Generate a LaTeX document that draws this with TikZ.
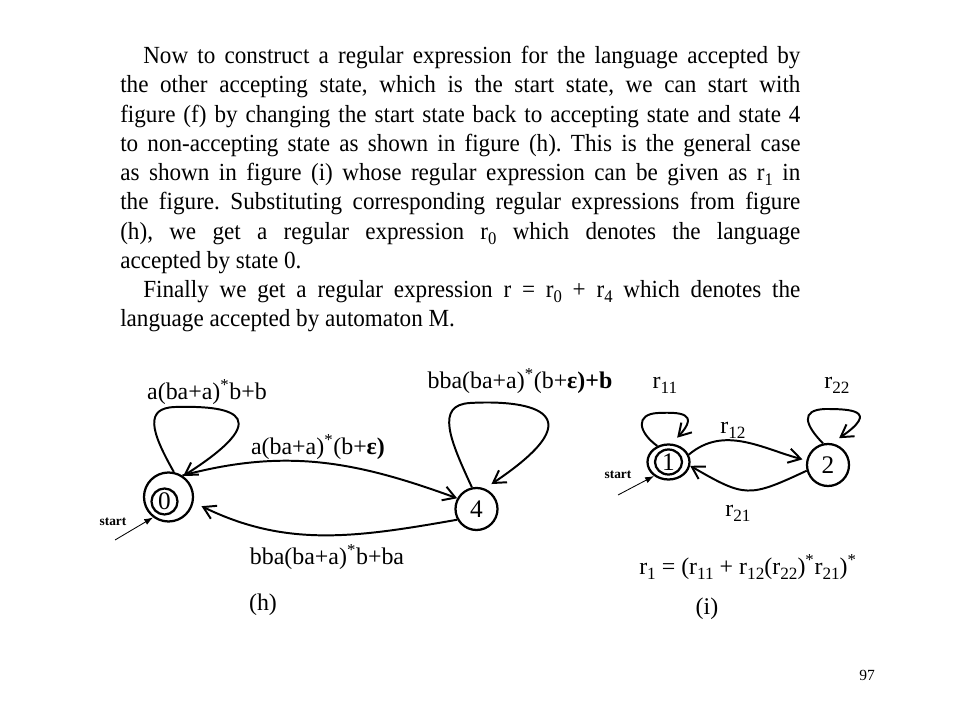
\documentclass[tikz,border=0pt]{standalone}
\usepackage{fontspec}
\setmainfont{Liberation Serif}
\newfontfamily\bodyfont{Liberation Serif}[FakeStretch=0.94]
\usetikzlibrary{arrows.meta,shapes.geometric}
\newcommand\lo[1]{\raisebox{-0.2em}{\scalebox{0.72}{#1}}}

\begin{document}
\begin{tikzpicture}[x=0.025cm,y=0.025cm,
  state/.style={circle,draw,line width=1.6pt,inner sep=0pt,font=\fontsize{18}{20}\selectfont},
  ostate/.style={ellipse,draw,line width=1.6pt,inner sep=0pt,font=\fontsize{18}{20}\selectfont},
  edge/.style={line width=1.4pt,-{Straight Barb[length=0.3cm,width=0.36cm]}},
  startarrow/.style={line width=0.6pt,-{Latex[length=0.22cm,width=0.16cm]}},
  lbl/.style={font=\fontsize{17}{20}\selectfont,inner sep=0pt},
  startlbl/.style={font=\fontsize{9.5}{11}\selectfont\bfseries,inner sep=0pt}]
\useasboundingbox (0,0) rectangle (960,-720);

% text
\node[anchor=north west,inner sep=0pt,text width=17cm,align=justify,
  font=\bodyfont\fontsize{17.5}{20.8}\selectfont] (txt) at (120,-46)
  {\frenchspacing\hyphenpenalty=10000\tolerance=10000
   \hspace*{0.575cm}Now to construct a regular expression for the language accepted by\linebreak
   the other accepting state, which is the start state, we can start with\linebreak
   figure (f) by changing the start state back to accepting state and state 4\linebreak
   to non-accepting state as shown in figure (h). This is the general case\linebreak
   as shown in figure (i) whose regular expression can be given as r\lo{1} in\linebreak
   the figure. Substituting corresponding regular expressions from figure\linebreak
   (h), we get a regular expression r\lo{0} which denotes the language\linebreak
   accepted by state 0.\\
   \hspace*{0.575cm}Finally we get a regular expression r = r\lo{0} + r\lo{4} which denotes the\linebreak
   language accepted by automaton M.};

% figure (h)
\node[state,minimum size=1.225cm] (q0) at (168.5,-497) {};
\node[state,minimum size=0.65cm] (q0in) at (164.5,-501.5) {0};
\node[state,minimum size=1.05cm] (q4) at (476.5,-509) {4};
\coordinate (s0) at (115,-540);
\node[startlbl] (st0) at (113,-522) {start};
\draw[startarrow] (s0) -- (q0.233);
\draw[edge] (q0.78) .. controls (150,-430) and (145,-408) .. (175,-407)
  .. controls (215,-406) and (290,-408) .. (q0.55);
\draw[edge,shorten >=0.2cm] (q4.102) .. controls (450,-440) and (435,-405) .. (470,-403)
  .. controls (520,-400) and (605,-408) .. (q4.68);
\draw[edge] (q0.57) to[out=15,in=160] (q4.151);
\draw[edge,shorten >=0.22cm] (q4.209) to[out=190,in=-26] (q0.-12);
\node[lbl] (l00) at (207,-392) {a(ba+a)\textsuperscript{*}b+b};
\node[lbl] (l04) at (318,-447) {a(ba+a)\textsuperscript{*}(b+\textbf{ε)}};
\node[lbl] (l44) at (520,-381) {bba(ba+a)\textsuperscript{*}(b+\textbf{ε)+b}};
\node[lbl] (l40) at (327,-557) {bba(ba+a)\textsuperscript{*}b+ba};
\node[lbl] (cap_h) at (263,-605) {(h)};

% figure (i)
\node[ostate,minimum width=1.05cm,minimum height=0.875cm] (q1) at (668.5,-462) {};
\node[ostate,minimum width=0.675cm,minimum height=0.625cm] (q1in) at (668.5,-462) {1};
\node[state,minimum size=1.05cm] (q2) at (828,-465) {2};
\coordinate (s1) at (618,-495);
\node[startlbl] (st1) at (618,-475) {start};
\draw[startarrow] (s1) -- (q1.224);
\draw[edge,shorten >=0.2cm] (q1.125) .. controls (638,-432) and (635,-414) .. (658,-413)
  .. controls (680,-412) and (700,-413) .. (q1.80);
\draw[edge,shorten >=0.22cm] (q2.103) .. controls (805,-425) and (800,-410) .. (825,-409)
  .. controls (850,-409) and (880,-410) .. (q2.80);
\draw[edge,shorten >=0.1cm] (q1.20) to[out=40,in=165] (q2.168);
\draw[edge] (q2.195) to[out=205,in=-30,looseness=1.4] (q1.-10);
\node[lbl] (r11) at (665,-385) {r\lo{11}};
\node[lbl] (r22) at (837,-385) {r\lo{22}};
\node[lbl] (r12) at (733,-430) {r\lo{12}};
\node[lbl] (r21) at (738,-513) {r\lo{21}};
\node[lbl] (form) at (748,-567) {r\lo{1} = (r\lo{11} + r\lo{12}(r\lo{22})\textsuperscript{*}r\lo{21})\textsuperscript{*}};
\node[lbl] (cap_i) at (707,-609) {(i)};

\node[font=\fontsize{11}{13}\selectfont,inner sep=0pt] (pg) at (867,-675) {97};
\end{tikzpicture}
\end{document}
